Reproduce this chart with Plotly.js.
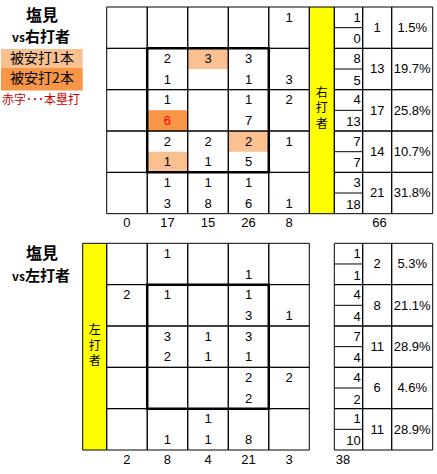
<!DOCTYPE html>
<html>
<head>
<meta charset="utf-8">
<script src="https://cdn.plot.ly/plotly-3.0.1.min.js"></script>
<style>
  html, body { margin: 0; padding: 0; background: #fff; }
  #chart { width: 437px; height: 474px; }
</style>
</head>
<body>
<div id="chart"></div>
<script>
// ---- data: vs right-handed batters (top) ----
const rUpper = [
  [null, null, null, null, 1],
  [null, 2, 3, 3, null],
  [null, 1, null, 1, 2],
  [null, 2, 2, 2, 1],
  [null, 1, 1, 1, null],
];
const rLower = [
  [null, null, null, null, null],
  [null, 1, null, 1, 3],
  [null, 6, null, 7, null],
  [null, 1, 1, 5, null],
  [null, 3, 8, 6, 1],
];
// [row, col, half (0 upper / 1 lower), hits, homeRun]
const rHits = [
  [1, 2, 0, 1, false],
  [2, 1, 1, 2, true],
  [3, 1, 1, 1, false],
  [3, 3, 0, 1, false],
];
const rColTotals = [0, 17, 15, 26, 8];
const rSideUp = [1, 8, 4, 7, 3];
const rSideLo = [0, 5, 13, 7, 18];
const rRowTotals = [1, 13, 17, 14, 21];
const rPct = ["1.5%", "19.7%", "25.8%", "10.7%", "31.8%"];
const rTotal = 66;

// ---- data: vs left-handed batters (bottom) ----
const lUpper = [
  [null, 1, null, null, null],
  [2, 1, null, 1, null],
  [null, 3, 1, 3, null],
  [null, null, null, 2, 2],
  [null, null, 1, null, null],
];
const lLower = [
  [null, null, null, 1, null],
  [null, null, null, 3, 1],
  [null, 2, 1, 1, null],
  [null, null, null, 2, null],
  [null, 1, 1, 8, null],
];
const lHits = [];
const lColTotals = [2, 8, 4, 21, 3];
const lSideUp = [1, 4, 7, 4, 1];
const lSideLo = [1, 4, 4, 2, 10];
const lRowTotals = [2, 8, 11, 6, 11];
const lPct = ["5.3%", "21.1%", "28.9%", "4.6%", "28.9%"];
const lTotal = 38;

// ---- layout constants (page pixels) ----
const GX0 = 106.7, CW = 40.52, RH = 41.34;
const SUB_X0 = 334.3, SUB_X1 = 362.7, TOT_X1 = 391.7, PCT_X1 = 432.7;
const LIGHT = "#FAC090", DARK = "#F79646", YELLOW = "#FFFF00";
const NUM_FONT = "Liberation Sans, Arial, sans-serif";
const JP_FONT = "Noto Sans CJK JP, sans-serif";

const shapes = [];
const pts = { x: [], y: [], t: [], c: [], pos: [] };

function rect(x0, y0, x1, y1, fill, lw) {
  shapes.push({
    type: "rect", xref: "x", yref: "y", x0, y0, x1, y1, layer: "below",
    fillcolor: fill || "rgba(0,0,0,0)",
    line: { color: lw === 0 ? "rgba(0,0,0,0)" : "#000", width: lw === undefined ? 1 : lw },
  });
}
function line(x0, y0, x1, y1) {
  shapes.push({ type: "line", xref: "x", yref: "y", x0, y0, x1, y1, layer: "below", line: { color: "#000", width: 1 } });
}
function addText(x, y, t, color, pos) {
  pts.x.push(x); pts.y.push(y); pts.t.push(String(t));
  pts.c.push(color || "#000"); pts.pos.push(pos || "middle center");
}
const colC = c => GX0 + (c + 0.5) * CW;

function drawBlock(y0, upper, lower, hits, colTotals, sideUp, sideLo, rowTot, pct, total, totalX, yellowX0, yellowX1) {
  const hr = {};
  // hit highlights
  hits.forEach(([r, c, h, n, isHr]) => {
    const hy = y0 + (r + 0.5 * h) * RH;
    rect(GX0 + c * CW, hy, GX0 + (c + 1) * CW, hy + RH / 2, n >= 2 ? DARK : LIGHT, 0);
    if (isHr) hr[r + "," + c + "," + h] = true;
  });
  // yellow batter column
  rect(yellowX0, y0, yellowX1, y0 + 5 * RH, YELLOW, 1);
  for (let r = 0; r < 5; r++) {
    const ry = y0 + r * RH;
    for (let c = 0; c < 5; c++) {
      rect(GX0 + c * CW, ry, GX0 + (c + 1) * CW, ry + RH);
      [upper[r][c], lower[r][c]].forEach((v, h) => {
        if (v === null) return;
        const col = hr[r + "," + c + "," + h] ? "#FF0000" : "#000";
        addText(colC(c), ry + (0.25 + 0.5 * h) * RH + 1, v, col);
      });
    }
    // side table
    rect(SUB_X0, ry, SUB_X1, ry + RH);
    line(SUB_X0, ry + RH / 2, SUB_X1, ry + RH / 2);
    rect(SUB_X1, ry, TOT_X1, ry + RH);
    rect(TOT_X1, ry, PCT_X1, ry + RH);
    addText(SUB_X1 - 2, ry + 0.25 * RH + 1, sideUp[r], "#000", "middle left");
    addText(SUB_X1 - 2, ry + 0.75 * RH + 2, sideLo[r], "#000", "middle left");
    addText((SUB_X1 + TOT_X1) / 2, ry + RH / 2 + 1, rowTot[r]);
    addText((TOT_X1 + PCT_X1) / 2, ry + RH / 2 + 1, pct[r]);
  }
  // strike zone box
  shapes.push({
    type: "rect", xref: "x", yref: "y", layer: "below",
    x0: GX0 + CW, x1: GX0 + 4 * CW, y0: y0 + RH, y1: y0 + 4 * RH,
    line: { color: "#000", width: 2.5 }, fillcolor: "rgba(0,0,0,0)",
  });
  // column totals
  const ly = y0 + 5 * RH + 10.5;
  colTotals.forEach((v, c) => addText(colC(c), ly, v));
  addText(totalX, ly, total);
}

const TOP_Y0 = 7, BOT_Y0 = 243.3;
drawBlock(TOP_Y0, rUpper, rLower, rHits, rColTotals, rSideUp, rSideLo, rRowTotals, rPct, rTotal, 379.5, GX0 + 5 * CW, SUB_X0);
drawBlock(BOT_Y0, lUpper, lLower, lHits, lColTotals, lSideUp, lSideLo, lRowTotals, lPct, lTotal, 343, 82.7, GX0);

// legend boxes
rect(1, 49, 82.7, 67.7, LIGHT, 0);
rect(1, 67.7, 82.7, 90.5, DARK, 0);

// japanese labels
const jp = { x: [], y: [], t: [], s: [], c: [] };
function addJp(x, y, t, s, c) { jp.x.push(x); jp.y.push(y); jp.t.push(t); jp.s.push(s); jp.c.push(c || "#000"); }
addJp(42, 17, "<b>塩見</b>", 16);
addJp(41, 38, "<b><span style='font-size:12px'>vs</span>右打者</b>", 15);
addJp(42, 59, "被安打1本", 14);
addJp(42, 79.5, "被安打2本", 14);
addJp(41, 101, "赤字･･･本塁打", 12, "#CC0000");
addJp(42, 255, "<b>塩見</b>", 16);
addJp(41, 277, "<b><span style='font-size:12px'>vs</span>左打者</b>", 15);
// vertical batter labels, one text each
addJp((GX0 + 5 * CW + SUB_X0) / 2, TOP_Y0 + 2.5 * RH - 1, "右<br>打<br>者", 12);
addJp((82.7 + GX0) / 2, BOT_Y0 + 2.5 * RH, "左<br>打<br>者", 12);

const traces = [
  {
    type: "scatter", mode: "text", x: pts.x, y: pts.y, text: pts.t,
    textposition: pts.pos,
    textfont: { family: NUM_FONT, size: 13, color: pts.c },
    hoverinfo: "skip", showlegend: false, cliponaxis: false,
  },
  {
    type: "scatter", mode: "text", x: jp.x, y: jp.y, text: jp.t,
    textposition: "middle center",
    textfont: { family: JP_FONT, size: jp.s, color: jp.c },
    hoverinfo: "skip", showlegend: false, cliponaxis: false,
  },
];

Plotly.newPlot("chart", traces, {
  width: 437, height: 474,
  margin: { t: 0, b: 0, l: 0, r: 0 },
  paper_bgcolor: "#fff", plot_bgcolor: "#fff",
  xaxis: { range: [0, 437], visible: false, fixedrange: true },
  yaxis: { range: [474, 0], visible: false, fixedrange: true },
  shapes,
  showlegend: false,
}, { staticPlot: true });
</script>
</body>
</html>
